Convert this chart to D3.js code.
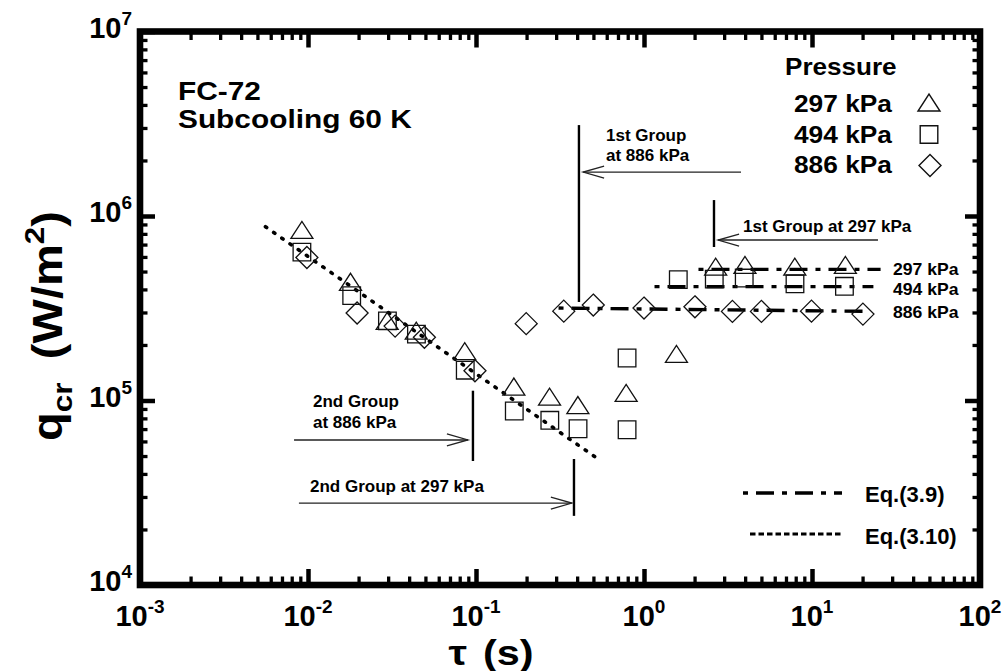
<!DOCTYPE html>
<html>
<head>
<meta charset="utf-8">
<script src="https://cdn.jsdelivr.net/npm/d3@7"></script>
<style>
  body { margin: 0; background: #fff; }
  svg { display: block; }
  text { font-family: "Liberation Sans", Arial, Helvetica, sans-serif; font-weight: bold; fill: #000; }
</style>
</head>
<body>
<svg id="chart" width="1005" height="671"></svg>
<script>
// ---- measured critical heat flux, FC-72, subcooling 60 K ----
const tau297 = [0.0092, 0.0179, 0.0296, 0.0441, 0.0857, 0.168, 0.274, 0.404, 0.783, 1.56, 2.67, 3.99, 7.9, 15.8];
const q297   = [8.4e5, 4.4e5, 2.7e5, 2.39e5, 1.85e5, 1.19e5, 1.05e5, 9.45e4, 1.10e5, 1.79e5, 5.31e5, 5.43e5, 5.31e5, 5.43e5];

const tau494 = [0.0092, 0.0182, 0.0297, 0.0442, 0.0863, 0.169, 0.275, 0.405, 0.793, 0.793, 1.60, 2.62, 3.95, 7.92, 15.6];
const q494   = [6.37e5, 3.70e5, 2.70e5, 2.29e5, 1.46e5, 8.77e4, 7.81e4, 7.03e4, 1.70e5, 6.94e4, 4.52e5, 4.55e5, 4.61e5, 4.29e5, 4.16e5];

const tau886 = [0.00985, 0.0196, 0.0330, 0.0493, 0.0986, 0.199, 0.333, 0.499, 1.00, 2.01, 3.36, 5.00, 9.93, 20.1];
const q886   = [5.96e5, 2.98e5, 2.53e5, 2.20e5, 1.45e5, 2.61e5, 3.05e5, 3.29e5, 3.17e5, 3.22e5, 3.04e5, 3.04e5, 3.05e5, 2.94e5];

// ---- correlation lines (end points) ----
const eq310Tau = [0.00558, 0.533];
const eq310Q   = [8.75e5, 4.82e4];
const eq39Tau297 = [2.11, 25.6];
const eq39Q297   = [5.14e5, 5.14e5];
const eq39Tau494 = [1.155, 23.2];
const eq39Q494   = [4.14e5, 4.14e5];
const eq39Tau886 = [0.31, 22.3];
const eq39Q886   = [3.17e5, 3.04e5];

// ---- group boundaries (vertical bars) and pointer arrows ----
const boundTau  = [0.41, 2.61, 0.0959, 0.383];
const boundQTop = [3.11e6, 1.22e6, 1.13e5, 4.82e4];
const boundQBot = [3.42e5, 6.79e5, 4.70e4, 2.37e4];
const arrowFrom = [3.78, 24.7, 0.00826, 0.00883];
const arrowTo   = [0.434, 2.76, 0.0895, 0.372];
const arrowQ    = [1.73e6, 7.41e5, 6.11e4, 2.78e4];

// ---- axes ----
const xExp = [-3, -2, -1, 0, 1, 2];
const yExp = [4, 5, 6, 7];
const pressureLabels = ["297 kPa", "494 kPa", "886 kPa"];

const svg = d3.select("#chart");
const X0 = 140, X1 = 980, Y0 = 585, Y1 = 31.5;
const x = d3.scaleLog().domain([1e-3, 1e2]).range([X0, X1]);
const y = d3.scaleLog().domain([1e4, 1e7]).range([Y0, Y1]);

// tick marks on all four sides, pointing inward
const majorX = xExp.map(e => Math.pow(10, e));
const minorX = d3.merge(xExp.slice(0, -1).map(e => d3.range(2, 10).map(m => m * Math.pow(10, e))));
const majorY = yExp.map(e => Math.pow(10, e));
const minorY = d3.merge(yExp.slice(0, -1).map(e => d3.range(2, 10).map(m => m * Math.pow(10, e))));

function tickSet(axisFn, scale, vals, len, sw, tr) {
  svg.append("g").attr("transform", tr)
    .call(axisFn(scale).tickValues(vals).tickSize(-len).tickFormat(""))
    .call(g => g.select(".domain").remove())
    .selectAll("line").attr("stroke", "#000").attr("stroke-width", sw);
}
tickSet(d3.axisBottom, x, minorX, 8.5, 3.3, `translate(0,${Y0})`);
tickSet(d3.axisBottom, x, majorX, 16, 4.5, `translate(0,${Y0})`);
tickSet(d3.axisTop, x, minorX, 8.5, 3.3, `translate(0,${Y1})`);
tickSet(d3.axisTop, x, majorX, 16, 4.5, `translate(0,${Y1})`);
tickSet(d3.axisLeft, y, minorY, 7.5, 3.3, `translate(${X0},0)`);
tickSet(d3.axisLeft, y, majorY, 15, 4.5, `translate(${X0},0)`);
tickSet(d3.axisRight, y, minorY, 7.5, 3.3, `translate(${X1},0)`);
tickSet(d3.axisRight, y, majorY, 15, 4.5, `translate(${X1},0)`);

// frame
svg.append("rect").attr("x", X0).attr("y", Y1).attr("width", X1 - X0).attr("height", Y0 - Y1)
  .attr("fill", "none").attr("stroke", "#000").attr("stroke-width", 6.6);

// tick labels as powers of ten
function powLabel(px, py, exp, anchor) {
  const t = svg.append("text").attr("x", px).attr("y", py).attr("text-anchor", anchor).attr("font-size", 29);
  t.append("tspan").text("10");
  t.append("tspan").attr("font-size", 19).attr("dy", -13).text(exp);
}
xExp.forEach(e => powLabel(x(Math.pow(10, e)), 626, String(e), "middle"));
yExp.forEach(e => powLabel(132, y(Math.pow(10, e)) + 6, String(e), "end"));

// axis titles (y title reads upward from its start point)
const yt = svg.append("text")
  .attr("transform", "translate(62,441) rotate(-90) scale(1.12,1)")
  .attr("text-anchor", "start").attr("font-size", 42);
yt.append("tspan").text("q");
yt.append("tspan").attr("font-size", 28).attr("dy", 10).text("cr");
yt.append("tspan").attr("dy", -10).attr("dx", 21).text("(W/m");
yt.append("tspan").attr("font-size", 28).attr("dy", -18).text("2");
yt.append("tspan").attr("dy", 18).text(")");

const xt = svg.append("text").attr("transform", "translate(491,665) scale(1.15,1)")
  .attr("text-anchor", "middle").attr("font-size", 36);
xt.append("tspan").text("τ");
xt.append("tspan").attr("dx", 14).text("(s)");

// plain text helper with optional horizontal stretch
function label(str, px, py, size, anchor, sx) {
  return svg.append("text")
    .attr("transform", `translate(${px},${py}) scale(${sx || 1},1)`)
    .attr("text-anchor", anchor || "start").attr("font-size", size).text(str);
}

label("FC-72", 178, 100, 25.5, "start", 1.17);
label("Subcooling 60 K", 178, 128, 25.5, "start", 1.17);

// correlation lines
const line = d3.line().x(d => x(d[0])).y(d => y(d[1]));
const pairs = (a, b) => a.map((v, i) => [v, b[i]]);

svg.append("path").attr("d", line(pairs(eq310Tau, eq310Q)))
  .attr("fill", "none").attr("stroke", "#000").attr("stroke-width", 3.6)
  .attr("stroke-linecap", "round").attr("stroke-dasharray", "1.5,8.5");

[[eq39Tau297, eq39Q297], [eq39Tau494, eq39Q494], [eq39Tau886, eq39Q886]].forEach(([t, q]) => {
  svg.append("path").attr("d", line(pairs(t, q)))
    .attr("fill", "none").attr("stroke", "#000").attr("stroke-width", 3.4)
    .attr("stroke-dasharray", "5,8,18,8");
});

// marker shapes
const tri = (cx, cy) => `M${cx - 11},${cy + 8.5}L${cx + 11},${cy + 8.5}L${cx},${cy - 8.5}Z`;
const sq = (cx, cy) => `M${cx - 8.8},${cy - 8.8}h17.6v17.6h-17.6Z`;
const dia = (cx, cy) => `M${cx},${cy - 11}L${cx + 11},${cy}L${cx},${cy + 11}L${cx - 11},${cy}Z`;

function markers(taus, qs, shape) {
  svg.append("g").selectAll("path").data(pairs(taus, qs)).join("path")
    .attr("d", d => shape(x(d[0]), y(d[1])))
    .attr("fill", "none").attr("stroke", "#111").attr("stroke-width", 1.3);
}
markers(tau297, q297, tri);
markers(tau494, q494, sq);
markers(tau886, q886, dia);

// group boundaries and arrows
boundTau.forEach((t, i) => {
  svg.append("line").attr("x1", x(t)).attr("x2", x(t))
    .attr("y1", y(boundQTop[i])).attr("y2", y(boundQBot[i]))
    .attr("stroke", "#000").attr("stroke-width", 2.4);
});
arrowFrom.forEach((f, i) => {
  const xa = x(f), xb = x(arrowTo[i]), ya = y(arrowQ[i]);
  const dir = xb > xa ? -1 : 1;
  svg.append("line").attr("x1", xa).attr("x2", xb).attr("y1", ya).attr("y2", ya)
    .attr("stroke", "#222").attr("stroke-width", 1.3);
  svg.append("path")
    .attr("d", `M${xb + dir * 21},${ya - 6}L${xb},${ya}L${xb + dir * 21},${ya + 6}`)
    .attr("fill", "none").attr("stroke", "#222").attr("stroke-width", 1.3);
});

label("1st Group", 606, 141, 17);
label("at 886 kPa", 606, 161, 17);
label("1st Group at 297 kPa", 743, 232, 17);
label("2nd Group", 313, 407, 17);
label("at 886 kPa", 313, 428, 17);
label("2nd Group at 297 kPa", 310, 492, 17);

// pressure tags at the right end of each Eq.(3.9) line
[275, 295, 318].forEach((py, i) => label(pressureLabels[i], 893, py, 16, "start", 1.1));

// legend: pressures
label("Pressure", 785, 75, 23.5, "start", 1.11);
[112, 143, 173].forEach((py, i) => label(pressureLabels[i], 892, py, 23.5, "end", 1.12));
const legShapes = [() => tri(929, 102.5), () => sq(929, 134.5), () => dia(930, 165.5)];
legShapes.forEach(fn => svg.append("path").attr("d", fn()).attr("fill", "none")
  .attr("stroke", "#111").attr("stroke-width", 1.4));

// legend: correlations
svg.append("line").attr("x1", 743).attr("x2", 842).attr("y1", 493).attr("y2", 493)
  .attr("stroke", "#000").attr("stroke-width", 3.4).attr("stroke-dasharray", "5,8,18,8");
svg.append("line").attr("x1", 750).attr("x2", 843).attr("y1", 534).attr("y2", 534)
  .attr("stroke", "#000").attr("stroke-width", 3).attr("stroke-dasharray", "5.5,3");
label("Eq.(3.9)", 865, 502, 22);
label("Eq.(3.10)", 865, 544, 22);
</script>
</body>
</html>
